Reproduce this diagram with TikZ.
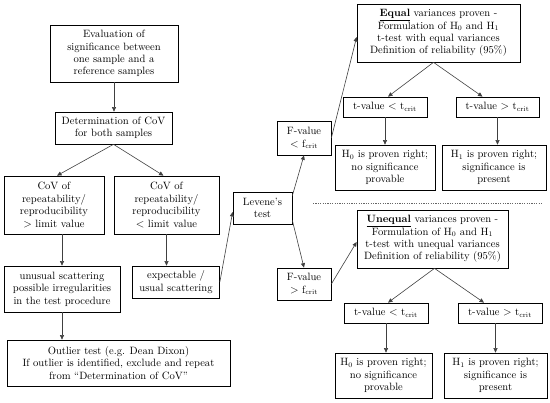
\documentclass[tikz,border=0pt]{standalone}
\usetikzlibrary{arrows.meta,calc}
\begin{document}
\begin{tikzpicture}[x=1pt,y=-1pt,
  box/.style={draw=black,line width=0.7pt,align=center,inner sep=1pt,
    font=\fontsize{10.6}{12.4}\selectfont},
  conn/.style={draw=black!75,line width=0.6pt,-{Triangle[length=4.5pt,width=4pt]}},
  sep/.style={draw=black!60,line width=0.5pt,dash pattern=on 1.2pt off 1.2pt}]
\useasboundingbox (0,0) rectangle (550,403);
% left column
\node[box,minimum width=128pt,minimum height=57pt] (b1) at (114,53.5)
  {Evaluation of\\significance between\\one sample and a\\reference samples};
\node[box,minimum width=117pt,minimum height=32pt] (b2) at (113.5,128)
  {Determination of CoV\\for both samples};
\node[box,minimum width=100pt,minimum height=58pt] (b3) at (54,205)
  {CoV of\\repeatability/\\reproducibility\\$>$ limit value};
\node[box,minimum width=105pt,minimum height=58pt] (b4) at (166.5,205)
  {CoV of\\repeatability/\\reproducibility\\$<$ limit value};
\node[box,minimum width=116pt,minimum height=46pt] (b5) at (62,289)
  {unusual scattering\\possible irregularities\\in the test procedure};
\node[box,minimum width=87pt,minimum height=32pt] (b6) at (176,282)
  {expectable /\\usual scattering};
\node[box,minimum width=223pt,minimum height=46pt] (b7) at (118.5,363)
  {Outlier test (e.g. Dean Dixon)\\If outlier is identified, exclude and repeat\\from ``Determination of CoV''};
% middle
\node[box,minimum width=59pt,minimum height=32pt] (lev) at (262.5,208)
  {Levene's\\test};
\node[box,minimum width=54pt,minimum height=34pt] (fl) at (304,138)
  {F-value\\$<$ f$_{\mathrm{crit}}$};
\node[box,minimum width=54pt,minimum height=32pt] (fg) at (304,284)
  {F-value\\$>$ f$_{\mathrm{crit}}$};
% upper right
\node[box,minimum width=163pt,minimum height=58pt] (eq) at (438.5,33)
  {\underline{\textbf{Equal}} variances proven -\\Formulation of H$_0$ and H$_1$\\t-test with equal variances\\Definition of reliability (95\%)};
\node[box,minimum width=84pt,minimum height=20pt] (tl1) at (385,107)
  {t-value $<$ t$_{\mathrm{crit}}$};
\node[box,minimum width=83pt,minimum height=20pt] (tg1) at (497.5,107)
  {t-value $>$ t$_{\mathrm{crit}}$};
\node[box,minimum width=100pt,minimum height=45pt] (h01) at (385,167.5)
  {H$_0$ is proven right;\\no significance\\provable};
\node[box,minimum width=104pt,minimum height=45pt] (h11) at (494,167.5)
  {H$_1$ is proven right;\\significance is\\present};
% separator
\coordinate (sl) at (313,203);
\coordinate (sr) at (542,203);
\draw[sep] (sl) -- (sr);
% lower right
\node[box,minimum width=151pt,minimum height=58pt] (uq) at (432.5,239)
  {\underline{\textbf{Unequal}} variances proven -\\Formulation of H$_0$ and H$_1$\\t-test with unequal variances\\Definition of reliability (95\%)};
\node[box,minimum width=84pt,minimum height=20pt] (tl2) at (386,313)
  {t-value $<$ t$_{\mathrm{crit}}$};
\node[box,minimum width=84pt,minimum height=20pt] (tg2) at (500,313)
  {t-value $>$ t$_{\mathrm{crit}}$};
\node[box,minimum width=97pt,minimum height=45pt] (h02) at (383.5,375.5)
  {H$_0$ is proven right;\\no significance\\provable};
\node[box,minimum width=103pt,minimum height=45pt] (h12) at (495.5,375.5)
  {H$_1$ is proven right;\\significance is\\present};
% connectors left
\draw[conn] (b1.south) -- (b1.south |- b2.north);
\draw[conn] (b2.south) -- ($(b3.north)+(3,0)$);
\draw[conn] (b2.south) -- ($(b4.north)+(-3,0)$);
\draw[conn] (b5.north |- b3.south) -- (b5.north);
\draw[conn] (b4.south) -- (b4.south |- b6.north);
\draw[conn] (b5.south) -- (b5.south |- b7.north);
\draw[conn] (b6.east) -- ($(lev.west)+(0,4)$);
% middle connectors
\draw[conn] ($(lev.north east)+(0,4)$) -- (fl.south);
\draw[conn] ($(lev.south east)+(0,-4)$) -- (fg.north);
\draw[conn] (fl.east) -- ($(eq.west)+(0,4)$);
\draw[conn] (fg.east) -- ($(uq.west)+(0,3)$);
% right connectors
\draw[conn] ($(eq.south)+(-5,0)$) -- ($(tl1.north)+(3,0)$);
\draw[conn] ($(eq.south)+(-5,0)$) -- ($(tg1.north)+(-15,0)$);
\draw[conn] (tl1.south) -- (tl1.south |- h01.north);
\draw[conn] (tg1.south) -- (tg1.south |- h11.north);
\draw[conn] ($(uq.south)+(2,0)$) -- ($(tl2.north)+(2,0)$);
\draw[conn] ($(uq.south)+(2,0)$) -- ($(tg2.north)+(-16,0)$);
\draw[conn] (tl2.south) -- (tl2.south |- h02.north);
\draw[conn] (h12.north |- tg2.south) -- (h12.north);
\end{tikzpicture}
\end{document}
